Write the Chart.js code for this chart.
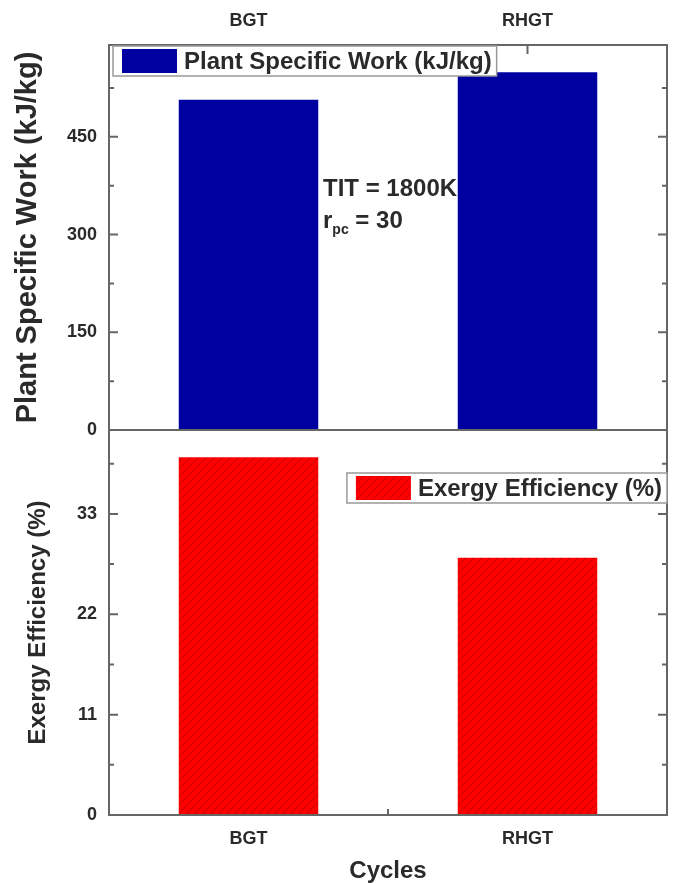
<!DOCTYPE html>
<html>
<head>
<meta charset="utf-8">
<script src="https://cdn.jsdelivr.net/npm/chart.js@4.4.1/dist/chart.umd.min.js"></script>
<style>
  html, body { margin: 0; padding: 0; background: #fff; }
  #wrap { width: 673px; height: 883px; }
</style>
</head>
<body>
<div id="wrap"><canvas id="cycles"></canvas></div>
<script>
// values
var cycles = ['BGT', 'RHGT'];
var specificWork = [507, 549];      // kJ/kg
var exergyEff = [39.2, 28.2];       // %
var workTicks = [0, 150, 300, 450];
var workMinor = [75, 225, 375, 525];
var workMax = 591;
var effTicks = [0, 11, 22, 33];
var effMinor = [5.5, 16.5, 27.5, 38.5];
var effMax = 42.2;

var FONT = "'Liberation Sans', Arial, sans-serif";
var INK = '#2a2a2a';
var FRAME = '#666';

Chart.defaults.font.family = FONT;
Chart.defaults.color = INK;

function redHatch() {
    var c = document.createElement('canvas'),
        g = c.getContext('2d');
    c.width = 8;
    c.height = 8;
    g.fillStyle = '#ff0000';
    g.fillRect(0, 0, 8, 8);
    g.strokeStyle = '#d80000';
    g.lineWidth = 1.3;
    g.beginPath();
    g.moveTo(-1, 9); g.lineTo(9, -1);
    g.moveTo(-3, 3); g.lineTo(3, -3);
    g.moveTo(5, 11); g.lineTo(11, 5);
    g.stroke();
    return g.createPattern(c, 'repeat');
}

function fixedTicks(list) {
    return function(scale) {
        scale.ticks = list.map(function(v) { return {value: v}; });
    };
}

var frame = {
    id: 'frame',
    afterDatasetsDraw: function(chart) {
        var ctx = chart.ctx,
            a = chart.chartArea,
            yw = chart.scales.yWork,
            ye = chart.scales.yEff,
            x = chart.scales.x;

        ctx.save();
        ctx.strokeStyle = FRAME;
        ctx.lineWidth = 2;

        // outer box and panel divider
        ctx.strokeRect(a.left, a.top, a.right - a.left, a.bottom - a.top);
        ctx.beginPath();
        ctx.moveTo(a.left, yw.bottom);
        ctx.lineTo(a.right, yw.bottom);
        ctx.stroke();

        // inward ticks on both sides
        function ticks(scale, major, minor) {
            ctx.beginPath();
            major.forEach(function(v) {
                var py = scale.getPixelForValue(v);
                ctx.moveTo(a.left, py); ctx.lineTo(a.left + 9, py);
                ctx.moveTo(a.right, py); ctx.lineTo(a.right - 9, py);
            });
            minor.forEach(function(v) {
                var py = scale.getPixelForValue(v);
                ctx.moveTo(a.left, py); ctx.lineTo(a.left + 5, py);
                ctx.moveTo(a.right, py); ctx.lineTo(a.right - 5, py);
            });
            ctx.stroke();
        }
        ticks(yw, workTicks, workMinor);
        ticks(ye, effTicks, effMinor);

        // x ticks: between bars at the bottom, on the bars at the top
        ctx.beginPath();
        var mid = (x.getPixelForTick(0) + x.getPixelForTick(1)) / 2;
        ctx.moveTo(mid, a.bottom); ctx.lineTo(mid, a.bottom - 6);
        cycles.forEach(function(c, i) {
            var px = chart.scales.x2.getPixelForTick(i);
            ctx.moveTo(px, a.top); ctx.lineTo(px, a.top + 9);
        });
        ctx.stroke();

        // legends
        function legend(left, top, fill, text, right) {
            ctx.font = 'bold 24px ' + FONT;
            var tw = ctx.measureText(text).width,
                w = 9 + 55 + 7 + tw + 5,
                h = 30;
            if (right !== undefined) left = right - w;
            ctx.fillStyle = '#fff';
            ctx.fillRect(left, top, w, h);
            ctx.strokeStyle = '#999';
            ctx.lineWidth = 1.5;
            ctx.strokeRect(left, top, w, h);
            ctx.fillStyle = fill;
            ctx.fillRect(left + 9, top + 3, 55, h - 6);
            ctx.fillStyle = INK;
            ctx.textBaseline = 'middle';
            ctx.textAlign = 'left';
            ctx.fillText(text, left + 71, top + h / 2 + 1);
        }
        legend(a.left + 4, a.top + 1, '#0000a0', chart.data.datasets[0].label);
        legend(0, yw.bottom + 43, chart.data.datasets[1].backgroundColor, chart.data.datasets[1].label, a.right);

        // operating conditions note
        ctx.fillStyle = INK;
        ctx.font = 'bold 24px ' + FONT;
        ctx.textBaseline = 'middle';
        ctx.textAlign = 'left';
        ctx.fillText('TIT = 1800K', 323, 189);
        ctx.fillText('r', 323, 221);
        var rw = ctx.measureText('r').width;
        ctx.font = 'bold 14px ' + FONT;
        ctx.fillText('pc', 323 + rw, 230);
        var sw = ctx.measureText('pc').width;
        ctx.font = 'bold 24px ' + FONT;
        ctx.fillText(' = 30', 323 + rw + sw, 221);

        ctx.restore();
    }
};

var ctx = document.getElementById('cycles').getContext('2d');
new Chart(ctx, {
    type: 'bar',
    data: {
        labels: cycles,
        datasets: [{
            label: 'Plant Specific Work (kJ/kg)',
            data: specificWork,
            yAxisID: 'yWork',
            backgroundColor: '#0000a0',
            grouped: false,
            barPercentage: 0.5,
            categoryPercentage: 1
        }, {
            label: 'Exergy Efficiency (%)',
            data: exergyEff,
            yAxisID: 'yEff',
            backgroundColor: redHatch(),
            grouped: false,
            barPercentage: 0.5,
            categoryPercentage: 1
        }]
    },
    options: {
        responsive: true,
        maintainAspectRatio: false,
        animation: false,
        layout: { padding: { top: 0, right: 6, bottom: 0, left: 0 } },
        plugins: {
            legend: { display: false },
            tooltip: { enabled: false }
        },
        scales: {
            x: {
                type: 'category',
                position: 'bottom',
                offset: true,
                grid: { display: false, drawTicks: false },
                border: { display: false },
                ticks: { font: { size: 18, weight: 'bold' }, padding: 13 },
                title: {
                    display: true,
                    text: 'Cycles',
                    font: { size: 24, weight: 'bold', lineHeight: 1 },
                    padding: { top: 4, bottom: 0 }
                },
                afterFit: function(s) { s.height = 68; }
            },
            x2: {
                type: 'category',
                position: 'top',
                labels: cycles,
                offset: true,
                grid: { display: false, drawTicks: false },
                border: { display: false },
                ticks: { font: { size: 18, weight: 'bold' }, padding: 13 },
                afterFit: function(s) { s.height = 45; }
            },
            yEff: {
                type: 'linear',
                position: 'left',
                stack: 'panels',
                stackWeight: 1,
                min: 0,
                max: effMax,
                grid: { display: false, drawTicks: false },
                border: { display: false },
                afterBuildTicks: fixedTicks(effTicks),
                ticks: { font: { size: 18, weight: 'bold' }, padding: 12 },
                title: {
                    display: true,
                    text: 'Exergy Efficiency (%)',
                    font: { size: 24, weight: 'bold', lineHeight: 1 },
                    padding: { top: 26, bottom: 26 }
                },
                afterFit: function(s) { s.width = 109; }
            },
            yWork: {
                type: 'linear',
                position: 'left',
                stack: 'panels',
                stackWeight: 1,
                min: 0,
                max: workMax,
                grid: { display: false, drawTicks: false },
                border: { display: false },
                afterBuildTicks: fixedTicks(workTicks),
                ticks: { font: { size: 18, weight: 'bold' }, padding: 12 },
                title: {
                    display: true,
                    text: 'Plant Specific Work (kJ/kg)',
                    font: { size: 29, weight: 'bold', lineHeight: 1 },
                    padding: { top: 13, bottom: 13 }
                },
                afterFit: function(s) { s.width = 109; }
            }
        }
    },
    plugins: [frame]
});
</script>
</body>
</html>
